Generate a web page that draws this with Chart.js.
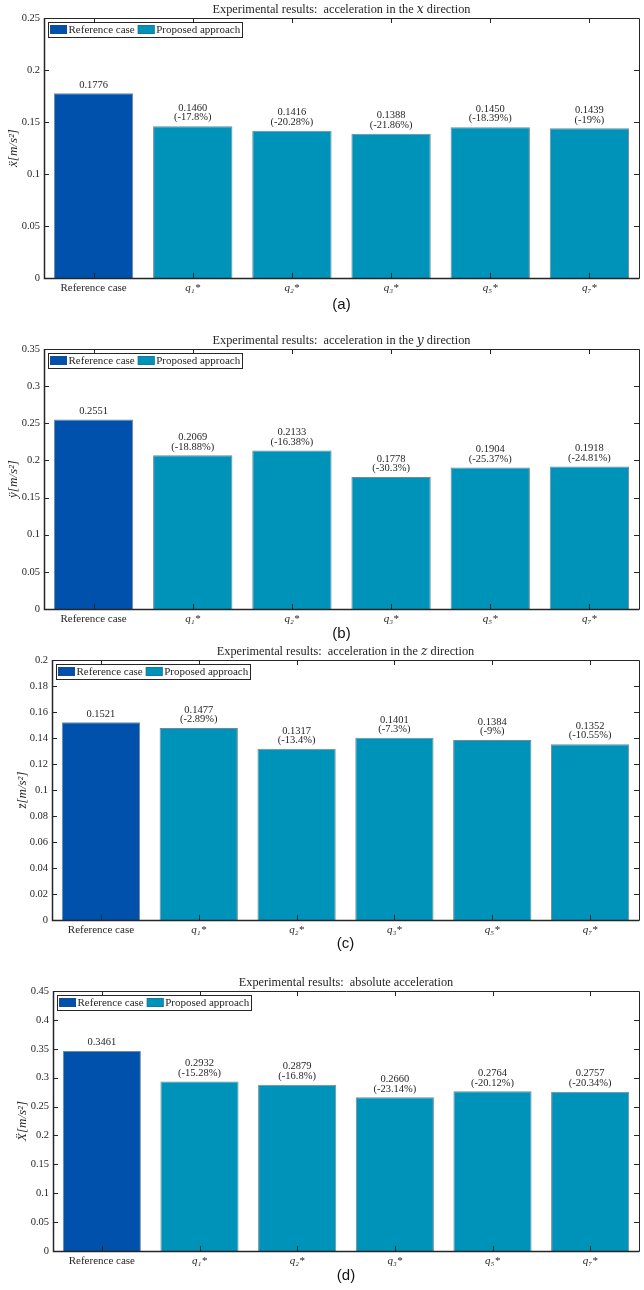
<!DOCTYPE html>
<html><head><meta charset="utf-8">
<script src="https://cdn.jsdelivr.net/npm/chart.js@4.4.1/dist/chart.umd.min.js"></script>
<style>
html,body{margin:0;padding:0;background:#fff;}
#wrap{position:relative;width:644px;height:1290px;overflow:hidden;}
.box{position:absolute;left:0;width:644px;}
canvas{display:block;}
</style></head><body>
<div id="wrap">
<div class="box" style="top:0px"><canvas id="ca" width="644" height="322"></canvas></div>
<div class="box" style="top:331px"><canvas id="cb" width="644" height="322"></canvas></div>
<div class="box" style="top:642px"><canvas id="cc" width="644" height="322"></canvas></div>
<div class="box" style="top:973px"><canvas id="cd" width="644" height="317"></canvas></div>
</div>
<script>
// ---------- data ----------
const categories = ['Reference case', 'q\u2081*', 'q\u2082*', 'q\u2083*', 'q\u2085*', 'q\u2087*'];
const seriesNames = ['Reference case', 'Proposed approach'];

const accX = [0.1776, 0.1460, 0.1416, 0.1388, 0.1450, 0.1439];
const pctX = [null, -17.8, -20.28, -21.86, -18.39, -19];

const accY = [0.2551, 0.2069, 0.2133, 0.1778, 0.1904, 0.1918];
const pctY = [null, -18.88, -16.38, -30.3, -25.37, -24.81];

const accZ = [0.1521, 0.1477, 0.1317, 0.1401, 0.1384, 0.1352];
const pctZ = [null, -2.89, -13.4, -7.3, -9, -10.55];

const accAbs = [0.3461, 0.2932, 0.2879, 0.2660, 0.2764, 0.2757];
const pctAbs = [null, -15.28, -16.8, -23.14, -20.12, -20.34];

const ticksX = [0, 0.05, 0.1, 0.15, 0.2, 0.25];
const ticksY = [0, 0.05, 0.1, 0.15, 0.2, 0.25, 0.3, 0.35];
const ticksZ = [0, 0.02, 0.04, 0.06, 0.08, 0.1, 0.12, 0.14, 0.16, 0.18, 0.2];
const ticksAbs = [0, 0.05, 0.1, 0.15, 0.2, 0.25, 0.3, 0.35, 0.4, 0.45];

const titles = [
  'Experimental results:  acceleration in the \uD835\uDC65 direction',
  'Experimental results:  acceleration in the \uD835\uDC66 direction',
  'Experimental results:  acceleration in the \uD835\uDC67 direction',
  'Experimental results:  absolute acceleration'
];
const yTitles = ['x\u0308[m/s\u00B2]', '\u00FF[m/s\u00B2]', 'z\u0308[m/s\u00B2]', '\u1E8C[m/s\u00B2]'];
const panelLabels = ['(a)', '(b)', '(c)', '(d)'];

// ---------- styles ----------
const COL_REF = '#0051AB';
const COL_PROP = '#0093BA';
const INK = '#262626';
const SERIF = '"Liberation Serif", "DejaVu Serif", serif';

// ---------- plugins ----------
const framePlugin = {
  id: 'frame',
  afterDatasetsDraw(chart) {
    const {ctx, chartArea: a} = chart;
    const ys = chart.scales.y, xs = chart.scales.x;
    ctx.save();
    ctx.strokeStyle = INK;
    ctx.lineWidth = 1;
    ctx.beginPath();
    ctx.rect(Math.round(a.left) + 0.5, Math.round(a.top) + 0.5,
             Math.round(a.right) - Math.round(a.left), Math.round(a.bottom) - Math.round(a.top));
    ctx.stroke();
    ctx.beginPath();
    ys.ticks.forEach((t, i) => {
      const py = Math.round(ys.getPixelForTick(i)) + 0.5;
      ctx.moveTo(a.left, py); ctx.lineTo(a.left + 5, py);
      ctx.moveTo(a.right, py); ctx.lineTo(a.right - 5, py);
    });
    xs.ticks.forEach((t, i) => {
      const px = Math.round(xs.getPixelForTick(i)) + 0.5;
      ctx.moveTo(px, a.bottom); ctx.lineTo(px, a.bottom - 5);
      ctx.moveTo(px, a.top); ctx.lineTo(px, a.top + 5);
    });
    ctx.stroke();
    ctx.lineWidth = 1.5;
    ctx.beginPath();
    ctx.moveTo(Math.round(a.left) + 0.5, a.top);
    ctx.lineTo(Math.round(a.left) + 0.5, Math.round(a.bottom) + 0.5);
    ctx.lineTo(a.right, Math.round(a.bottom) + 0.5);
    ctx.stroke();
    ctx.restore();
  }
};

const barLabelPlugin = {
  id: 'barLabels',
  afterDatasetsDraw(chart, args, opts) {
    const ctx = chart.ctx;
    ctx.save();
    ctx.font = '10.5px ' + SERIF;
    ctx.fillStyle = INK;
    ctx.textAlign = 'center';
    ctx.textBaseline = 'middle';
    chart.data.datasets.forEach((ds, di) => {
      const meta = chart.getDatasetMeta(di);
      meta.data.forEach((el, i) => {
        const v = ds.data[i];
        if (v == null) return;
        const p = opts.pct[i];
        if (p == null) {
          ctx.fillText(v.toFixed(4), el.x, el.y - 8.5);
        } else {
          ctx.fillText(v.toFixed(4), el.x, el.y - 18);
          ctx.fillText('(' + String(p) + '%)', el.x, el.y - 8.5);
        }
      });
    });
    ctx.restore();
  }
};

const legendPlugin = {
  id: 'boxLegend',
  afterDraw(chart) {
    const {ctx, chartArea: a} = chart;
    ctx.save();
    ctx.font = '11px ' + SERIF;
    ctx.textBaseline = 'middle';
    const fx = a.left + 4, fy = a.top + 4, fh = 15;
    let x = fx + 2;
    const items = chart.data.datasets.map(ds => ({label: ds.label, color: ds.backgroundColor}));
    const pos = [];
    items.forEach(it => {
      pos.push(x);
      x += 17 + 1.5 + ctx.measureText(it.label).width + 3;
    });
    const fw = x - fx - 1;
    ctx.fillStyle = '#fff';
    ctx.fillRect(fx, fy, fw, fh);
    items.forEach((it, k) => {
      const bx = pos[k];
      ctx.fillStyle = it.color;
      ctx.fillRect(bx, fy + 3, 17, 9);
      ctx.strokeStyle = 'rgba(60,80,100,0.6)';
      ctx.lineWidth = 0.6;
      ctx.strokeRect(bx + 0.3, fy + 3.3, 16.4, 8.4);
      ctx.fillStyle = INK;
      ctx.fillText(it.label, bx + 18.5, fy + fh / 2 + 0.5);
    });
    ctx.strokeStyle = INK;
    ctx.lineWidth = 1;
    ctx.strokeRect(Math.round(fx) + 0.5, Math.round(fy) + 0.5, Math.round(fw), fh);
    ctx.restore();
  }
};

// ---------- chart builder ----------
function makeChart(id, values, pct, ticks, title, yTitle, panel, p) {
  const H = p.height;
  const plotTop = 18;
  const plotBottom = 278;
  const xAxisH = H - plotBottom;
  const xTitleLH = 18;
  const titleSize = 12.3;
  const refData = values.map((v, i) => i === 0 ? v : null);
  const propData = values.map((v, i) => i === 0 ? null : v);
  return new Chart(document.getElementById(id), {
    type: 'bar',
    data: {
      labels: categories,
      datasets: [
        {label: seriesNames[0], data: refData, backgroundColor: COL_REF,
         borderColor: 'rgba(90,115,140,0.85)', borderWidth: 1, grouped: false,
         categoryPercentage: 0.8, barPercentage: 1},
        {label: seriesNames[1], data: propData, backgroundColor: COL_PROP,
         borderColor: 'rgba(90,115,130,0.85)', borderWidth: 1, grouped: false,
         categoryPercentage: 0.8, barPercentage: 1}
      ]
    },
    options: {
      responsive: false,
      animation: false,
      layout: {padding: {left: 0, right: 5, top: 0, bottom: 0}},
      plugins: {
        legend: {display: false},
        tooltip: {enabled: false},
        title: {display: false},
        barLabels: {pct: pct}
      },
      scales: {
        x: {
          grid: {display: false, drawTicks: false},
          border: {display: false},
          ticks: {color: INK, padding: 4,
                  font: (c) => ({family: SERIF, size: 11, style: c.index === 0 ? 'normal' : 'italic'})},
          title: {display: true, text: panel, color: '#111',
                  font: {family: '"Liberation Sans", Arial, sans-serif', size: 15, lineHeight: 1.2},
                  padding: {top: 0, bottom: H - p.xTitleY - xTitleLH / 2}},
          afterFit: (s) => { s.height = xAxisH; }
        },
        xTop: {
          position: 'top',
          type: 'category',
          grid: {display: false, drawTicks: false},
          border: {display: false},
          ticks: {display: false},
          title: {display: true, text: title, color: INK,
                  font: {family: SERIF, size: titleSize, lineHeight: 1.2},
                  padding: {top: 10 - titleSize * 0.6, bottom: 0}},
          afterFit: (s) => { s.height = plotTop; }
        },
        y: {
          min: 0, max: ticks[ticks.length - 1],
          grid: {display: false, drawTicks: false},
          border: {display: false},
          afterBuildTicks: (s) => { s.ticks = ticks.map(v => ({value: v})); },
          ticks: {color: INK, padding: 4, font: {family: SERIF, size: 10.5},
                  callback: (v) => String(v)},
          title: {display: true, text: yTitle, color: INK,
                  font: {family: SERIF, size: 13, style: 'italic', lineHeight: 1.2},
                  padding: {top: p.yTitleX - 7.8, bottom: 0}},
          afterFit: (s) => { s.width = p.yAxisW; }
        }
      }
    },
    plugins: [framePlugin, barLabelPlugin, legendPlugin]
  });
}

makeChart('ca', accX, pctX, ticksX, titles[0], yTitles[0], panelLabels[0], {height: 322, yAxisW: 44, xTitleY: 305, yTitleX: 14});
makeChart('cb', accY, pctY, ticksY, titles[1], yTitles[1], panelLabels[1], {height: 322, yAxisW: 44, xTitleY: 303, yTitleX: 14});
makeChart('cc', accZ, pctZ, ticksZ, titles[2], yTitles[2], panelLabels[2], {height: 322, yAxisW: 52, xTitleY: 302, yTitleX: 23});
makeChart('cd', accAbs, pctAbs, ticksAbs, titles[3], yTitles[3], panelLabels[3], {height: 317, yAxisW: 53, xTitleY: 303, yTitleX: 23});
</script>
</body></html>
